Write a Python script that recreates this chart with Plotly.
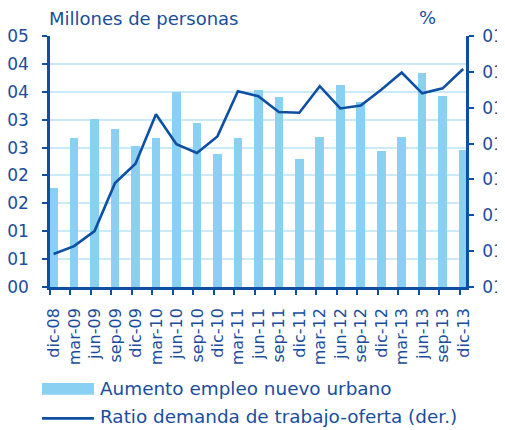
import plotly.graph_objects as go

categories = ["dic-08", "mar-09", "jun-09", "sep-09", "dic-09", "mar-10", "jun-10",
              "sep-10", "dic-10", "mar-11", "jun-11", "sep-11", "dic-11", "mar-12",
              "jun-12", "sep-12", "dic-12", "mar-13", "jun-13", "sep-13", "dic-13"]
empleo = [1.78, 2.68, 3.02, 2.83, 2.52, 2.68, 3.50, 2.94, 2.38, 2.68, 3.53,
          3.40, 2.29, 2.69, 3.63, 3.31, 2.43, 2.69, 3.84, 3.43, 2.46]
ratio = [0.846, 0.857, 0.878, 0.945, 0.972, 1.041, 0.999, 0.987, 1.010, 1.073, 1.066,
         1.044, 1.043, 1.080, 1.049, 1.053, 1.075, 1.099, 1.070, 1.077, 1.104]
left_tickvals = [0, 0.5, 1, 1.5, 2, 2.5, 3, 3.5, 4, 4.5]
left_ticktext = ["00", "01", "01", "02", "02", "03", "03", "04", "04", "05"]
right_tickvals = [0.8, 0.85, 0.9, 0.95, 1.0, 1.05, 1.1, 1.15]
right_ticktext = ["01"] * 8
legend_names = ["Aumento empleo nuevo urbano", "Ratio demanda de trabajo-oferta (der.)"]

BAR = "#89D0F2"
DARK = "#0D4FA3"
TEXT = "#1A4E9C"
GRID = "#CBEAF8"
FONT = "DejaVu Sans"

# page has an 8px body margin: work in window pixels, convert to figure pixels
OFF = 8
W, H = 505, 430
L, R, T, B = 50 - OFF, 466.5 - OFF, 36 - OFF, 286.7 - OFF
pw, ph = R - L, B - T

def px(x):
    return (x - OFF - L) / pw

def py(y):
    return (B - (y - OFF)) / ph

xs = list(range(len(categories)))
offset = 0.175

fig = go.Figure()
fig.add_trace(go.Bar(x=xs, y=empleo, marker=dict(color=BAR, line=dict(width=0)),
                     width=0.42, name=legend_names[0], showlegend=False))
fig.add_trace(go.Scatter(x=xs, y=ratio, mode="lines", line=dict(color=DARK, width=2.6),
                         yaxis="y2", name=legend_names[1], showlegend=False))

fig.update_layout(
    width=W, height=H,
    margin=dict(l=L, r=W - R, t=T, b=H - B, pad=0, autoexpand=False),
    paper_bgcolor="white", plot_bgcolor="white",
    font=dict(family=FONT, color=TEXT, size=17),
    xaxis=dict(range=[-offset, len(categories) - 1 + 0.14], tickmode="array",
               tickvals=[i - offset for i in xs], ticktext=categories,
               tickangle=-90, ticks="outside", ticklen=5, tickwidth=2, tickcolor=DARK,
               showline=True, linecolor=DARK, linewidth=2.5, showgrid=False,
               zeroline=False, ticklabelshift=4, ticklabelstandoff=7, automargin=False,
               tickfont=dict(size=16, color=TEXT)),
    yaxis=dict(range=[0, 4.5], tickmode="array", tickvals=left_tickvals,
               ticktext=left_ticktext, ticks="outside", ticklen=5, tickwidth=2,
               tickcolor=DARK, showline=True, linecolor=DARK, linewidth=2.5,
               showgrid=True, gridcolor=GRID, gridwidth=1.5, zeroline=False,
               automargin=False, tickfont=dict(size=17, color=TEXT), ticklabelstandoff=10),
    yaxis2=dict(range=[0.8, 1.15], overlaying="y", side="right", tickmode="array",
                tickvals=right_tickvals, ticktext=right_ticktext, ticks="outside",
                ticklen=5, tickwidth=2, tickcolor=DARK, showline=True, linecolor=DARK,
                linewidth=2.5, showgrid=False, zeroline=False, automargin=False,
                tickfont=dict(size=17, color=TEXT), ticklabelstandoff=5),
    bargap=0,
)

fig.add_annotation(text="Millones de personas", x=px(47), y=py(19), xref="paper", yref="paper",
                   xanchor="left", yanchor="middle", showarrow=False,
                   font=dict(size=18, color=TEXT, family=FONT))
fig.add_annotation(text="%", x=px(428), y=py(18), xref="paper", yref="paper",
                   xanchor="center", yanchor="middle", showarrow=False,
                   font=dict(size=18, color=TEXT, family=FONT))

# legend
fig.add_shape(type="rect", xref="paper", yref="paper", x0=px(42), x1=px(94),
              y0=py(382.5), y1=py(394.3), fillcolor=BAR, line=dict(width=0))
fig.add_shape(type="line", xref="paper", yref="paper", x0=px(42), x1=px(94),
              y0=py(418), y1=py(418), line=dict(color=DARK, width=2.7))
fig.add_annotation(text=legend_names[0], x=px(98), y=py(388.5), xref="paper", yref="paper",
                   xanchor="left", yanchor="middle", showarrow=False,
                   font=dict(size=18.4, color=TEXT, family=FONT))
fig.add_annotation(text=legend_names[1], x=px(98), y=py(416), xref="paper", yref="paper",
                   xanchor="left", yanchor="middle", showarrow=False,
                   font=dict(size=18.4, color=TEXT, family=FONT))

fig.write_html("out.html")
